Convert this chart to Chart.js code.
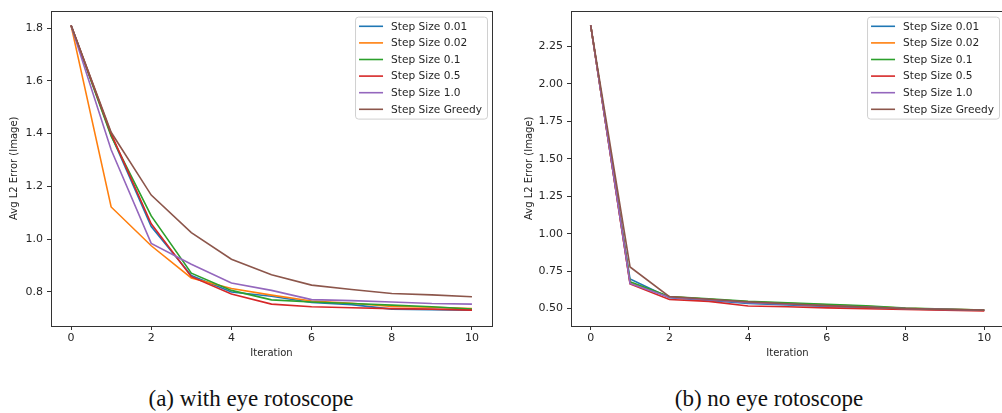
<!DOCTYPE html>
<html>
<head>
<meta charset="utf-8">
<script src="https://cdn.jsdelivr.net/npm/chart.js@4.4.1/dist/chart.umd.min.js"></script>
<style>
  body { margin: 0; background: #fff; overflow: hidden; width: 1002px; height: 413px; position: relative; }
  canvas { position: absolute; top: 0; }
  #chart_a { left: 0; }
  #chart_b { left: 500px; }
  .cap { position: absolute; top: 387px; font-family: "Liberation Serif", serif; font-size: 23px; line-height: 23px; color: #111; white-space: nowrap; transform: translateX(-50%); }
</style>
</head>
<body>
<canvas id="chart_a" width="500" height="370"></canvas>
<canvas id="chart_b" width="510" height="370"></canvas>
<div class="cap" style="left:251px">(a) with eye rotoscope</div>
<div class="cap" style="left:769px">(b) no eye rotoscope</div>
<script>
const iterations = [0, 1, 2, 3, 4, 5, 6, 7, 8, 9, 10];
const xTicks = [0, 2, 4, 6, 8, 10];
const seriesLabels = ["Step Size 0.01", "Step Size 0.02", "Step Size 0.1", "Step Size 0.5", "Step Size 1.0", "Step Size Greedy"];
const seriesColors = ["#1f77b4", "#ff7f0e", "#2ca02c", "#d62728", "#9467bd", "#8c564b"];

// (a) with eye rotoscope
const a_step001 = [1.81, 1.395, 1.048, 0.862, 0.800, 0.784, 0.760, 0.752, 0.735, 0.733, 0.731];
const a_step002 = [1.81, 1.122, 0.975, 0.853, 0.813, 0.788, 0.766, 0.757, 0.745, 0.742, 0.737];
const a_step01 = [1.81, 1.390, 1.088, 0.871, 0.806, 0.770, 0.762, 0.756, 0.750, 0.744, 0.735];
const a_step05 = [1.81, 1.400, 1.058, 0.858, 0.792, 0.754, 0.744, 0.740, 0.737, 0.735, 0.731];
const a_step10 = [1.81, 1.339, 0.984, 0.905, 0.834, 0.806, 0.771, 0.767, 0.762, 0.756, 0.754];
const a_greedy = [1.81, 1.405, 1.167, 1.025, 0.924, 0.865, 0.826, 0.809, 0.794, 0.789, 0.782];
const a_yTicks = [0.8, 1.0, 1.2, 1.4, 1.6, 1.8];

// (b) no eye rotoscope
const b_step001 = [2.39, 0.697, 0.573, 0.555, 0.535, 0.525, 0.515, 0.507, 0.498, 0.493, 0.489];
const b_step002 = [2.39, 0.672, 0.578, 0.562, 0.545, 0.535, 0.525, 0.515, 0.502, 0.496, 0.490];
const b_step01 = [2.39, 0.679, 0.580, 0.565, 0.548, 0.538, 0.528, 0.518, 0.503, 0.497, 0.491];
const b_step05 = [2.39, 0.664, 0.561, 0.548, 0.517, 0.512, 0.505, 0.500, 0.494, 0.489, 0.485];
const b_step10 = [2.39, 0.668, 0.575, 0.560, 0.540, 0.530, 0.518, 0.510, 0.500, 0.495, 0.489];
const b_greedy = [2.39, 0.778, 0.580, 0.562, 0.545, 0.532, 0.520, 0.510, 0.500, 0.495, 0.490];
const b_yTicks = [0.50, 0.75, 1.00, 1.25, 1.50, 1.75, 2.00, 2.25];

const textColor = "#262626";
const frameColor = "#333";

// axes frame + matplotlib style legend in the upper right
const framePlugin = {
  id: "frame",
  afterDatasetsDraw(chart) {
    const { ctx, chartArea: a } = chart;
    ctx.save();
    ctx.strokeStyle = frameColor;
    ctx.lineWidth = 1;
    ctx.strokeRect(Math.round(a.left) + 0.5, Math.round(a.top) + 0.5, Math.round(a.right - a.left), Math.round(a.bottom - a.top));

    ctx.font = "10.6px 'DejaVu Sans'";
    const sets = chart.data.datasets;
    const textW = Math.max(...sets.map((d) => ctx.measureText(d.label).width));
    const w = 4 + 24 + 8 + textW + 5, h = 102;
    const x0 = a.right - 5 - w, y0 = a.top + 6;
    ctx.fillStyle = "rgba(255,255,255,0.8)";
    ctx.strokeStyle = "#d0d0d0";
    ctx.beginPath();
    ctx.roundRect(x0 + 0.5, y0 + 0.5, w, h, 3);
    ctx.fill();
    ctx.stroke();
    sets.forEach((d, i) => {
      const y = y0 + 9.7 + i * 16.6;
      ctx.strokeStyle = d.borderColor;
      ctx.lineWidth = 1.6;
      ctx.beginPath();
      ctx.moveTo(x0 + 4, y);
      ctx.lineTo(x0 + 28, y);
      ctx.stroke();
      ctx.fillStyle = textColor;
      ctx.textBaseline = "middle";
      ctx.fillText(d.label, x0 + 36, y + 0.5);
    });
    ctx.restore();
  },
};

const makeChart = (id, series, yMin, yMax, yTicks, decimals, yWidth, padRight, yTitlePad) => {
  const canvas = document.querySelector(`#${id}`);
  const config = {
    type: "line",
    data: {
      labels: iterations,
      datasets: series.map((vals, i) => ({
        label: seriesLabels[i],
        data: iterations.map((x, j) => ({ x: x, y: vals[j] })),
        borderColor: seriesColors[i],
        borderWidth: 1.6,
        pointRadius: 0,
        tension: 0,
        fill: false,
        order: series.length - i,
      })),
    },
    options: {
      responsive: false,
      animation: false,
      layout: { padding: { top: 5, right: padRight, left: 0, bottom: 0 } },
      plugins: { legend: { display: false }, tooltip: { enabled: false } },
      scales: {
        x: {
          type: "linear",
          min: -0.5,
          max: 10.5,
          afterBuildTicks: (s) => { s.ticks = xTicks.map((v) => ({ value: v })); },
          afterFit: (s) => { s.height = 44; },
          ticks: { color: textColor, font: { family: "DejaVu Sans", size: 11 }, padding: 2, maxRotation: 0 },
          grid: { drawOnChartArea: false, drawTicks: true, tickLength: 4, tickColor: frameColor },
          border: { display: false },
          title: { display: true, text: "Iteration", color: textColor, font: { family: "DejaVu Sans", size: 10 }, padding: { top: 0, bottom: 11 } },
        },
        y: {
          min: yMin,
          max: yMax,
          afterBuildTicks: (s) => { s.ticks = yTicks.map((v) => ({ value: v })); },
          afterFit: (s) => { s.width = yWidth; },
          ticks: { color: textColor, font: { family: "DejaVu Sans", size: 11 }, padding: 4, callback: (v) => v.toFixed(decimals) },
          grid: { drawOnChartArea: false, drawTicks: true, tickLength: 4, tickColor: frameColor },
          border: { display: false },
          title: { display: true, text: "Avg L2 Error (Image)", color: textColor, font: { family: "DejaVu Sans", size: 10 }, padding: { top: yTitlePad, bottom: 0 } },
        },
      },
    },
    plugins: [framePlugin],
  };
  return new Chart(canvas, config);
};

makeChart("chart_a", [a_step001, a_step002, a_step01, a_step05, a_step10, a_greedy], 0.671, 1.866, a_yTicks, 1, 51, 8, 8);
makeChart("chart_b", [b_step001, b_step002, b_step01, b_step05, b_step10, b_greedy], 0.384, 2.488, b_yTicks, 2, 71, 6, 23);
</script>
</body>
</html>
